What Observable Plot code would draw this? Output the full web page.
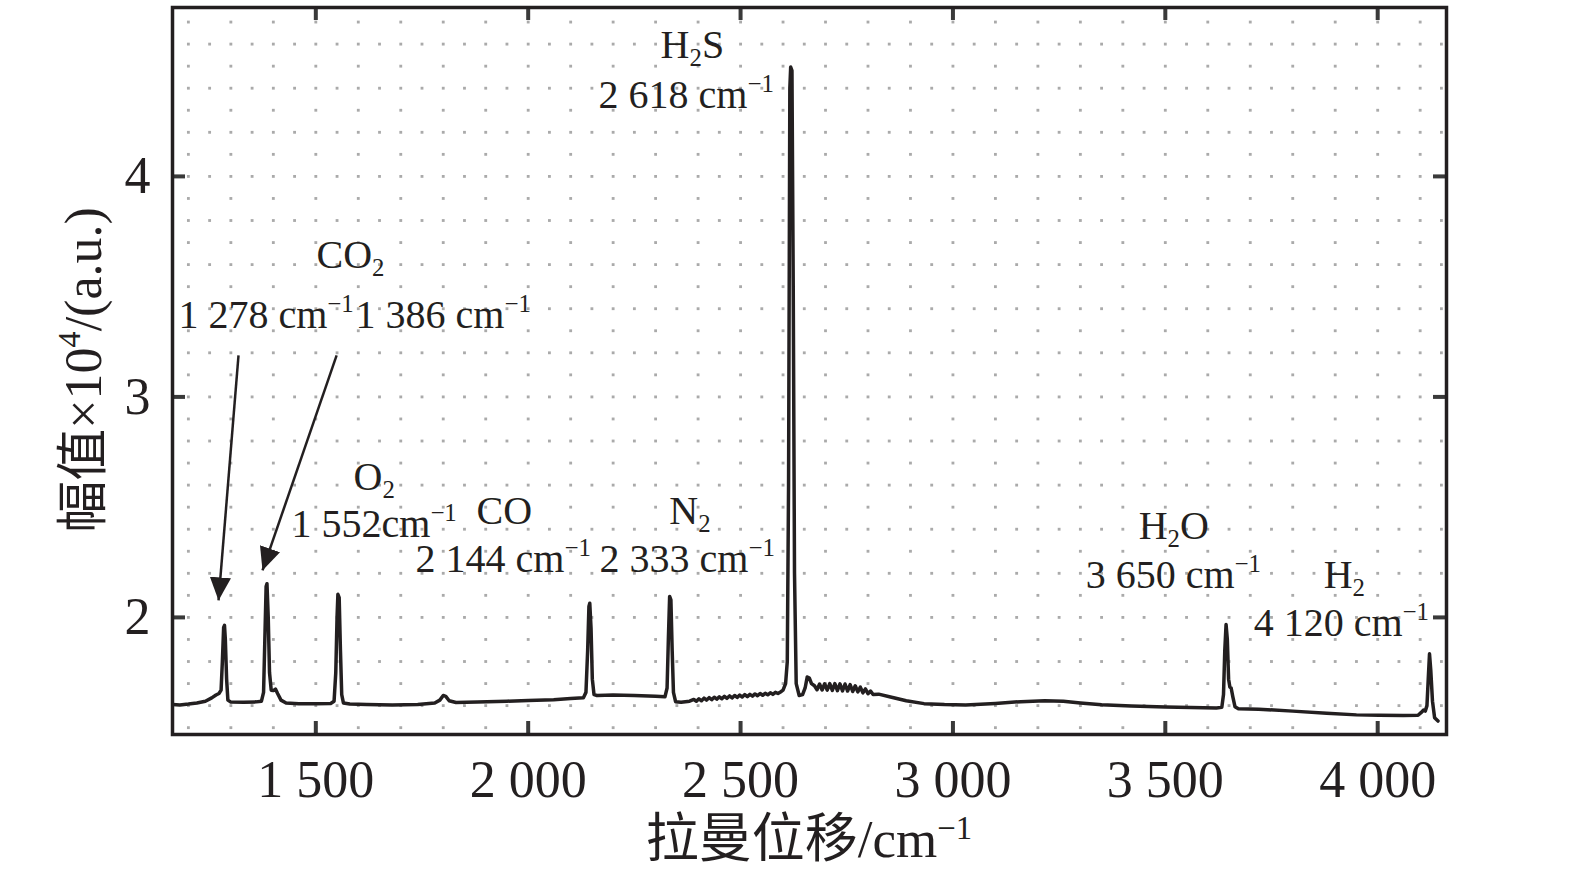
<!DOCTYPE html>
<html><head><meta charset="utf-8">
<script src="https://cdn.jsdelivr.net/npm/d3@7"></script>
<script src="https://cdn.jsdelivr.net/npm/@observablehq/plot@0.6"></script>
<style>body{margin:0;background:#fff} svg{display:block}</style>
</head><body><div id="chart"></div>
<script>
// Raman spectrum: [Raman shift (cm^-1), amplitude (x10^4 a.u.)]
const spectrum = [
[1163,1.605],[1180,1.603],[1200,1.607],[1220,1.612],[1240,1.62],[1255,1.635],[1265,1.648],[1272,1.655],[1277,1.67],
[1280,1.80],[1283,1.955],[1285,1.964],[1287,1.90],[1290,1.72],[1293,1.625],[1300,1.616],[1330,1.615],[1360,1.617],
[1372,1.62],[1377,1.66],[1380,1.90],[1383,2.14],[1385,2.153],[1388,2.0],[1391,1.75],[1395,1.67],[1400,1.668],
[1405,1.675],[1410,1.655],[1418,1.625],[1430,1.612],[1460,1.608],[1500,1.608],[1535,1.61],[1543,1.62],[1547,1.75],
[1550,2.0],[1552,2.105],[1555,2.09],[1558,1.85],[1561,1.65],[1565,1.612],[1580,1.607],[1620,1.605],[1680,1.603],
[1740,1.605],[1780,1.612],[1792,1.625],[1800,1.646],[1806,1.642],[1814,1.622],[1830,1.614],[1880,1.616],[1950,1.62],
[2000,1.623],[2060,1.627],[2100,1.632],[2130,1.636],[2136,1.66],[2140,1.85],[2143,2.05],[2145,2.064],[2148,1.95],
[2151,1.72],[2155,1.65],[2162,1.646],[2200,1.648],[2250,1.646],[2300,1.642],[2322,1.64],[2327,1.68],[2330,1.90],
[2333,2.095],[2336,2.08],[2339,1.85],[2342,1.66],[2347,1.618],[2360,1.615],[2380,1.62],
[2390,1.628],[2396,1.620],[2402,1.631],[2408,1.622],[2414,1.634],[2420,1.625],[2426,1.636],[2432,1.627],[2438,1.638],
[2444,1.629],[2450,1.640],[2456,1.631],[2462,1.642],[2468,1.633],[2474,1.644],[2480,1.635],[2486,1.646],[2492,1.637],
[2498,1.648],[2504,1.639],[2510,1.650],[2516,1.641],[2522,1.651],[2528,1.643],[2534,1.653],[2540,1.645],[2546,1.655],
[2552,1.647],[2558,1.656],[2564,1.649],[2570,1.658],[2576,1.651],[2582,1.660],[2588,1.655],[2594,1.662],
[2600,1.67],[2606,1.70],[2610,1.80],[2613,2.6],[2616,4.40],[2618,4.496],[2621,4.48],[2624,3.5],[2627,2.2],[2631,1.70],
[2638,1.646],[2646,1.65],[2652,1.68],[2657,1.73],[2662,1.725],[2667,1.70],[2674,1.69],
[2680,1.672],[2686,1.698],[2692,1.671],[2698,1.699],[2704,1.670],[2710,1.700],[2716,1.669],[2722,1.700],[2728,1.668],
[2734,1.699],[2740,1.667],[2746,1.698],[2752,1.666],[2758,1.695],[2764,1.664],[2770,1.690],[2776,1.662],[2782,1.684],
[2788,1.658],[2794,1.676],[2800,1.654],[2806,1.666],[2812,1.650],
[2825,1.652],[2853,1.639],[2890,1.622],[2932,1.609],[2980,1.605],[3030,1.603],[3100,1.61],[3160,1.618],[3216,1.622],
[3260,1.62],[3300,1.612],[3350,1.604],[3420,1.598],[3500,1.594],[3560,1.591],[3620,1.589],[3633,1.592],[3637,1.65],
[3640,1.85],[3643,1.968],[3646,1.90],[3649,1.72],[3652,1.684],[3655,1.68],[3659,1.64],[3664,1.595],[3672,1.586],
[3720,1.584],[3800,1.575],[3880,1.565],[3950,1.558],[4003,1.556],[4060,1.555],[4095,1.556],[4102,1.568],[4108,1.58],
[4112,1.575],[4116,1.60],[4119,1.72],[4122,1.835],[4125,1.76],[4129,1.62],[4134,1.545],[4142,1.53]
];

const xTicks = [1500, 2000, 2500, 3000, 3500, 4000];
const xTickLabels = ["1 500", "2 000", "2 500", "3 000", "3 500", "4 000"];
const yTicks = [2, 3, 4];
const yTickLabels = ["2", "3", "4"];

// peak annotations (left edge / baseline position in data units); _{..} subscript, ^{..} superscript
const labels = [
  {x: 2311.7, y: 4.535, text: "H_{2}S"},
  {x: 2165.7, y: 4.308, text: "2 618 cm^{−1}"},
  {x: 1501.6, y: 3.583, text: "CO_{2}"},
  {x: 1176.7, y: 3.311, text: "1 278 cm^{−1}"},
  {x: 1593.5, y: 3.311, text: "1 386 cm^{−1}"},
  {x: 1588.8, y: 2.576, text: "O_{2}"},
  {x: 1442.8, y: 2.363, text: "1 552cm^{−1}"},
  {x: 1878.4, y: 2.422, text: "CO"},
  {x: 1734.8, y: 2.204, text: "2 144 cm^{−1}"},
  {x: 2332.3, y: 2.422, text: "N_{2}"},
  {x: 2168.0, y: 2.204, text: "2 333 cm^{−1}"},
  {x: 3437.2, y: 2.354, text: "H_{2}O"},
  {x: 3312.4, y: 2.132, text: "3 650 cm^{−1}"},
  {x: 3872.8, y: 2.132, text: "H_{2}"},
  {x: 3708.0, y: 1.914, text: "4 120 cm^{−1}"}
];

const arrows = [
  {x1: 1318, y1: 3.188, x2: 1271, y2: 2.077},
  {x1: 1549, y1: 3.188, x2: 1374.5, y2: 2.213}
];

const xTitle = "拉曼位移/cm^{−1}";
const yTitle = "幅值×10^{4}/(a.u.)";

const X_DOMAIN = [1162.6, 4162];
const Y_DOMAIN = [1.469, 4.766];
const INK = "#231f20";
const SERIF = "'Liberation Serif','Times New Roman','Noto Sans CJK SC',serif";

// dotted background grid
const gridDots = d3.cross(d3.range(1200, 4101, 100), d3.range(15, 48).map(d => d / 10)).map(([x, y]) => ({x, y}))
  .concat(d3.cross(d3.range(1250, 4151, 100), d3.range(16, 47, 2).map(d => d / 10)).map(([x, y]) => ({x, y})));

const plot = Plot.plot({
  width: 1575, height: 877,
  marginLeft: 172, marginRight: 129, marginTop: 7, marginBottom: 143,
  style: {fontFamily: SERIF, background: "#fff", color: INK},
  x: {domain: X_DOMAIN},
  y: {domain: Y_DOMAIN},
  marks: [
    Plot.dot(gridDots, {x: "x", y: "y", symbol: "square", r: 1.6, fill: "#aaaaaa"}),
    Plot.line(spectrum, {x: d => d[0], y: d => d[1], stroke: INK, strokeWidth: 3.5, strokeLinejoin: "round"}),
    Plot.link(arrows, {x1: "x1", y1: "y1", x2: "x2", y2: "y2", stroke: INK, strokeWidth: 2.5}),
    Plot.text(labels, {x: "x", y: "y", text: "text", textAnchor: "start", lineAnchor: "bottom", fontSize: 40, fill: INK}),
    Plot.ruleX(xTicks, {x: d => d, y1: Y_DOMAIN[0], y2: Y_DOMAIN[0], insetTop: -13, stroke: "#3a3a3a", strokeWidth: 4}),
    Plot.ruleX(xTicks, {x: d => d, y1: Y_DOMAIN[1], y2: Y_DOMAIN[1], insetBottom: -13, stroke: "#3a3a3a", strokeWidth: 4}),
    Plot.ruleY(yTicks, {y: d => d, x1: X_DOMAIN[0], x2: X_DOMAIN[0], insetRight: -13, stroke: "#3a3a3a", strokeWidth: 4}),
    Plot.ruleY(yTicks, {y: d => d, x1: X_DOMAIN[1], x2: X_DOMAIN[1], insetLeft: -13, stroke: "#3a3a3a", strokeWidth: 4}),
    Plot.axisX(xTicks, {anchor: "bottom", tickSize: 0, tickPadding: 26, fontSize: 52, fill: INK,
      tickFormat: d => xTickLabels[xTicks.indexOf(d)], label: null}),
    Plot.axisY(yTicks, {anchor: "left", tickSize: 0, tickPadding: 22, fontSize: 52, fill: INK,
      tickFormat: d => yTickLabels[yTicks.indexOf(d)], label: null}),
    Plot.frame({stroke: INK, strokeWidth: 3.5})
  ]
});

function richify(el, F, supShift = 0.4) {
  const s = el.textContent;
  while (el.firstChild) el.removeChild(el.firstChild);
  const parts = [];
  const re = /([_^])\{([^}]*)\}/g;
  let last = 0, m;
  while ((m = re.exec(s))) {
    if (m.index > last) parts.push({t: s.slice(last, m.index)});
    parts.push({t: m[2], k: m[1]});
    last = re.lastIndex;
  }
  if (last < s.length) parts.push({t: s.slice(last)});
  let cur = 0;
  for (const p of parts) {
    const ts = document.createElementNS("http://www.w3.org/2000/svg", "tspan");
    const target = p.k === "_" ? 0.2 * F : p.k === "^" ? -supShift * F : 0;
    ts.setAttribute("dy", target - cur);
    cur = target;
    if (p.k) ts.setAttribute("font-size", 0.62 * F);
    ts.textContent = p.t;
    el.appendChild(ts);
  }
}

const svg = d3.select(plot);
svg.selectAll('g[aria-label="text"] text').each(function () { richify(this, 40); });

const defs = svg.insert("defs", ":first-child");
defs.append("marker").attr("id", "ah").attr("viewBox", "0 0 10 10").attr("refX", 10).attr("refY", 5)
  .attr("markerWidth", 23).attr("markerHeight", 23).attr("markerUnits", "userSpaceOnUse").attr("orient", "auto")
  .append("path").attr("d", "M0,0.4L10,5L0,9.6Z").attr("fill", INK);
svg.selectAll('g[aria-label="link"] path').attr("marker-end", "url(#ah)");

const xt = svg.append("text").attr("x", (172 + 1446) / 2).attr("y", 857).attr("text-anchor", "middle")
  .attr("font-size", 53).attr("fill", INK).attr("font-family", SERIF).text(xTitle);
richify(xt.node(), 53, 0.34);
const yt = svg.append("text").attr("transform", "translate(101,370) rotate(-90)").attr("text-anchor", "middle")
  .attr("font-size", 52).attr("fill", INK).attr("font-family", SERIF).text(yTitle);
richify(yt.node(), 52);

document.getElementById("chart").appendChild(plot);
</script>
</body></html>
